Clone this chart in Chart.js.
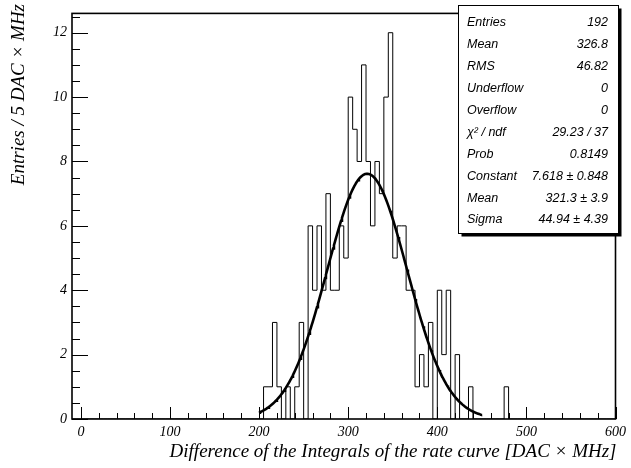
<!DOCTYPE html>
<html>
<head>
<meta charset="utf-8">
<script src="https://cdn.jsdelivr.net/npm/chart.js@4/dist/chart.umd.min.js"></script>
<style>
  html, body { margin: 0; padding: 0; background: #fff; }
  #wrap { width: 631px; height: 468px; }
</style>
</head>
<body>
<div id="wrap"><canvas id="c" width="631" height="468"></canvas></div>
<script>
// Histogram: entries per 5 DAC x MHz bin, first bin starts at 200
const binStart = 200;
const binWidth = 5;
const counts = [
  0, 0, 1, 1, 3, 1, 0, 1, 0, 1,      // 200 - 245
  3, 0, 6, 4, 6, 4, 7, 4, 4, 6,      // 250 - 295
  5, 10, 9, 8, 11, 8, 6, 8, 7, 10,   // 300 - 345
  12, 5, 6, 6, 4, 4, 1, 2, 1, 3,     // 350 - 395
  0, 4, 2, 4, 0, 2, 0, 0, 1, 0,      // 400 - 445
  0, 0, 0, 0, 0, 0, 1, 0             // 450 - 485
];
const xRange = [-10, 600];
const yMax = 12.6;
const xTickValues = [0, 100, 200, 300, 400, 500, 600];
const yTickValues = [0, 2, 4, 6, 8, 10, 12];

// Gaussian fit result
const fitRange = [200, 450];
const fitConstant = 7.618;
const fitMean = 321.3;
const fitSigma = 44.94;

// Statistics box
const statLabels = ['Entries', 'Mean', 'RMS', 'Underflow', 'Overflow', 'χ² / ndf', 'Prob', 'Constant', 'Mean', 'Sigma'];
const statValues = ['192', '326.8', '46.82', '0', '0', '29.23 / 37', '0.8149', '7.618 ± 0.848', '321.3 ± 3.9', '44.94 ± 4.39'];

const xTitle = 'Difference of the Integrals of the rate curve [DAC × MHz]';
const yTitle = 'Entries / 5 DAC × MHz';

// outline points of the histogram over the full axis range
const histPoints = [];
let last = 0;
for (let e = xRange[0]; e < xRange[1] - 1e-9; e += binWidth) {
  const i = Math.round((e - binStart) / binWidth);
  const c = (i >= 0 && i < counts.length) ? counts[i] : 0;
  histPoints.push({ x: e, y: c });
  last = c;
}
histPoints.push({ x: xRange[1], y: last });

// fit function sampled over its range
const fitPoints = [];
for (let x = fitRange[0]; x <= fitRange[1]; x += 1) {
  const z = (x - fitMean) / fitSigma;
  fitPoints.push({ x: x, y: fitConstant * Math.exp(-0.5 * z * z) });
}

const serif = "'Liberation Serif', 'Times New Roman', serif";
const sans = "'Liberation Sans', Arial, sans-serif";

// frame, inner tick marks, axis titles and the statistics box
const decorations = {
  id: 'decorations',
  afterDraw(chart) {
    const ctx = chart.ctx;
    const a = chart.chartArea;
    const xs = chart.scales.x, ys = chart.scales.y;
    ctx.save();
    ctx.strokeStyle = '#000';
    ctx.lineWidth = 1;
    // x ticks: major every 100, minor every 20
    ctx.beginPath();
    for (let v = 0; v <= 600; v += 20) {
      const px = Math.round(xs.getPixelForValue(v)) + 0.5;
      const len = (v % 100 === 0) ? 12 : 6;
      ctx.moveTo(px, a.bottom);
      ctx.lineTo(px, a.bottom - len);
    }
    // y ticks: major every 2, minor every 0.5
    for (let k = 0; k <= 25; k++) {
      const v = k * 0.5;
      if (v > yMax) break;
      const py = Math.round(ys.getPixelForValue(v)) + 0.5;
      const len = (k % 4 === 0) ? 16 : 8;
      ctx.moveTo(a.left, py);
      ctx.lineTo(a.left + len, py);
    }
    ctx.stroke();
    // frame
    ctx.lineWidth = 1.6;
    ctx.strokeRect(a.left, a.top, a.right - a.left, a.bottom - a.top);

    // axis titles
    ctx.fillStyle = '#000';
    ctx.font = 'italic 19px ' + serif;
    ctx.textAlign = 'right';
    ctx.textBaseline = 'middle';
    ctx.fillText(xTitle, a.right + 1, 452);
    ctx.save();
    ctx.translate(19, 4);
    ctx.rotate(-Math.PI / 2);
    ctx.fillText(yTitle, 0, 0);
    ctx.restore();

    // statistics box with shadow
    const bx = 458.5, by = 5.5, bw = 160, bh = 228;
    ctx.fillStyle = '#000';
    ctx.fillRect(bx + 3, by + 3, bw, bh);
    ctx.fillStyle = '#fff';
    ctx.fillRect(bx, by, bw, bh);
    ctx.lineWidth = 1;
    ctx.strokeRect(bx, by, bw, bh);
    ctx.fillStyle = '#000';
    ctx.font = 'italic 12.5px ' + sans;
    ctx.textBaseline = 'middle';
    for (let i = 0; i < statLabels.length; i++) {
      const y = 22.7 + i * 21.92;
      ctx.textAlign = 'left';
      ctx.fillText(statLabels[i], 467, y);
      ctx.textAlign = 'right';
      ctx.fillText(statValues[i], 608, y);
    }
    ctx.restore();
  }
};

new Chart(document.getElementById('c'), {
  type: 'scatter',
  data: {
    datasets: [
      {
        type: 'line',
        data: histPoints,
        stepped: 'after',
        borderColor: '#000',
        borderWidth: 1,
        pointRadius: 0,
        fill: false
      },
      {
        type: 'line',
        data: fitPoints,
        borderColor: '#000',
        borderWidth: 2.6,
        pointRadius: 0,
        tension: 0,
        fill: false
      }
    ]
  },
  options: {
    responsive: false,
    animation: false,
    layout: { padding: { left: 0, top: 7, right: 12, bottom: 0 } },
    plugins: { legend: { display: false }, tooltip: { enabled: false } },
    scales: {
      x: {
        type: 'linear',
        min: xRange[0],
        max: xRange[1],
        afterBuildTicks: s => { s.ticks = xTickValues.map(v => ({ value: v })); },
        afterFit: s => { s.height = 49; },
        grid: { display: false, drawTicks: false },
        border: { display: false },
        ticks: {
          color: '#000', padding: 5, maxRotation: 0, autoSkip: false,
          font: { family: serif, style: 'italic', size: 14 }
        }
      },
      y: {
        type: 'linear',
        min: 0,
        max: yMax,
        afterBuildTicks: s => { s.ticks = yTickValues.map(v => ({ value: v })); },
        afterFit: s => { s.width = 72; },
        grid: { display: false, drawTicks: false },
        border: { display: false },
        ticks: {
          color: '#000', padding: 5, autoSkip: false,
          font: { family: serif, style: 'italic', size: 14 }
        }
      }
    }
  },
  plugins: [decorations]
});
</script>
</body>
</html>
